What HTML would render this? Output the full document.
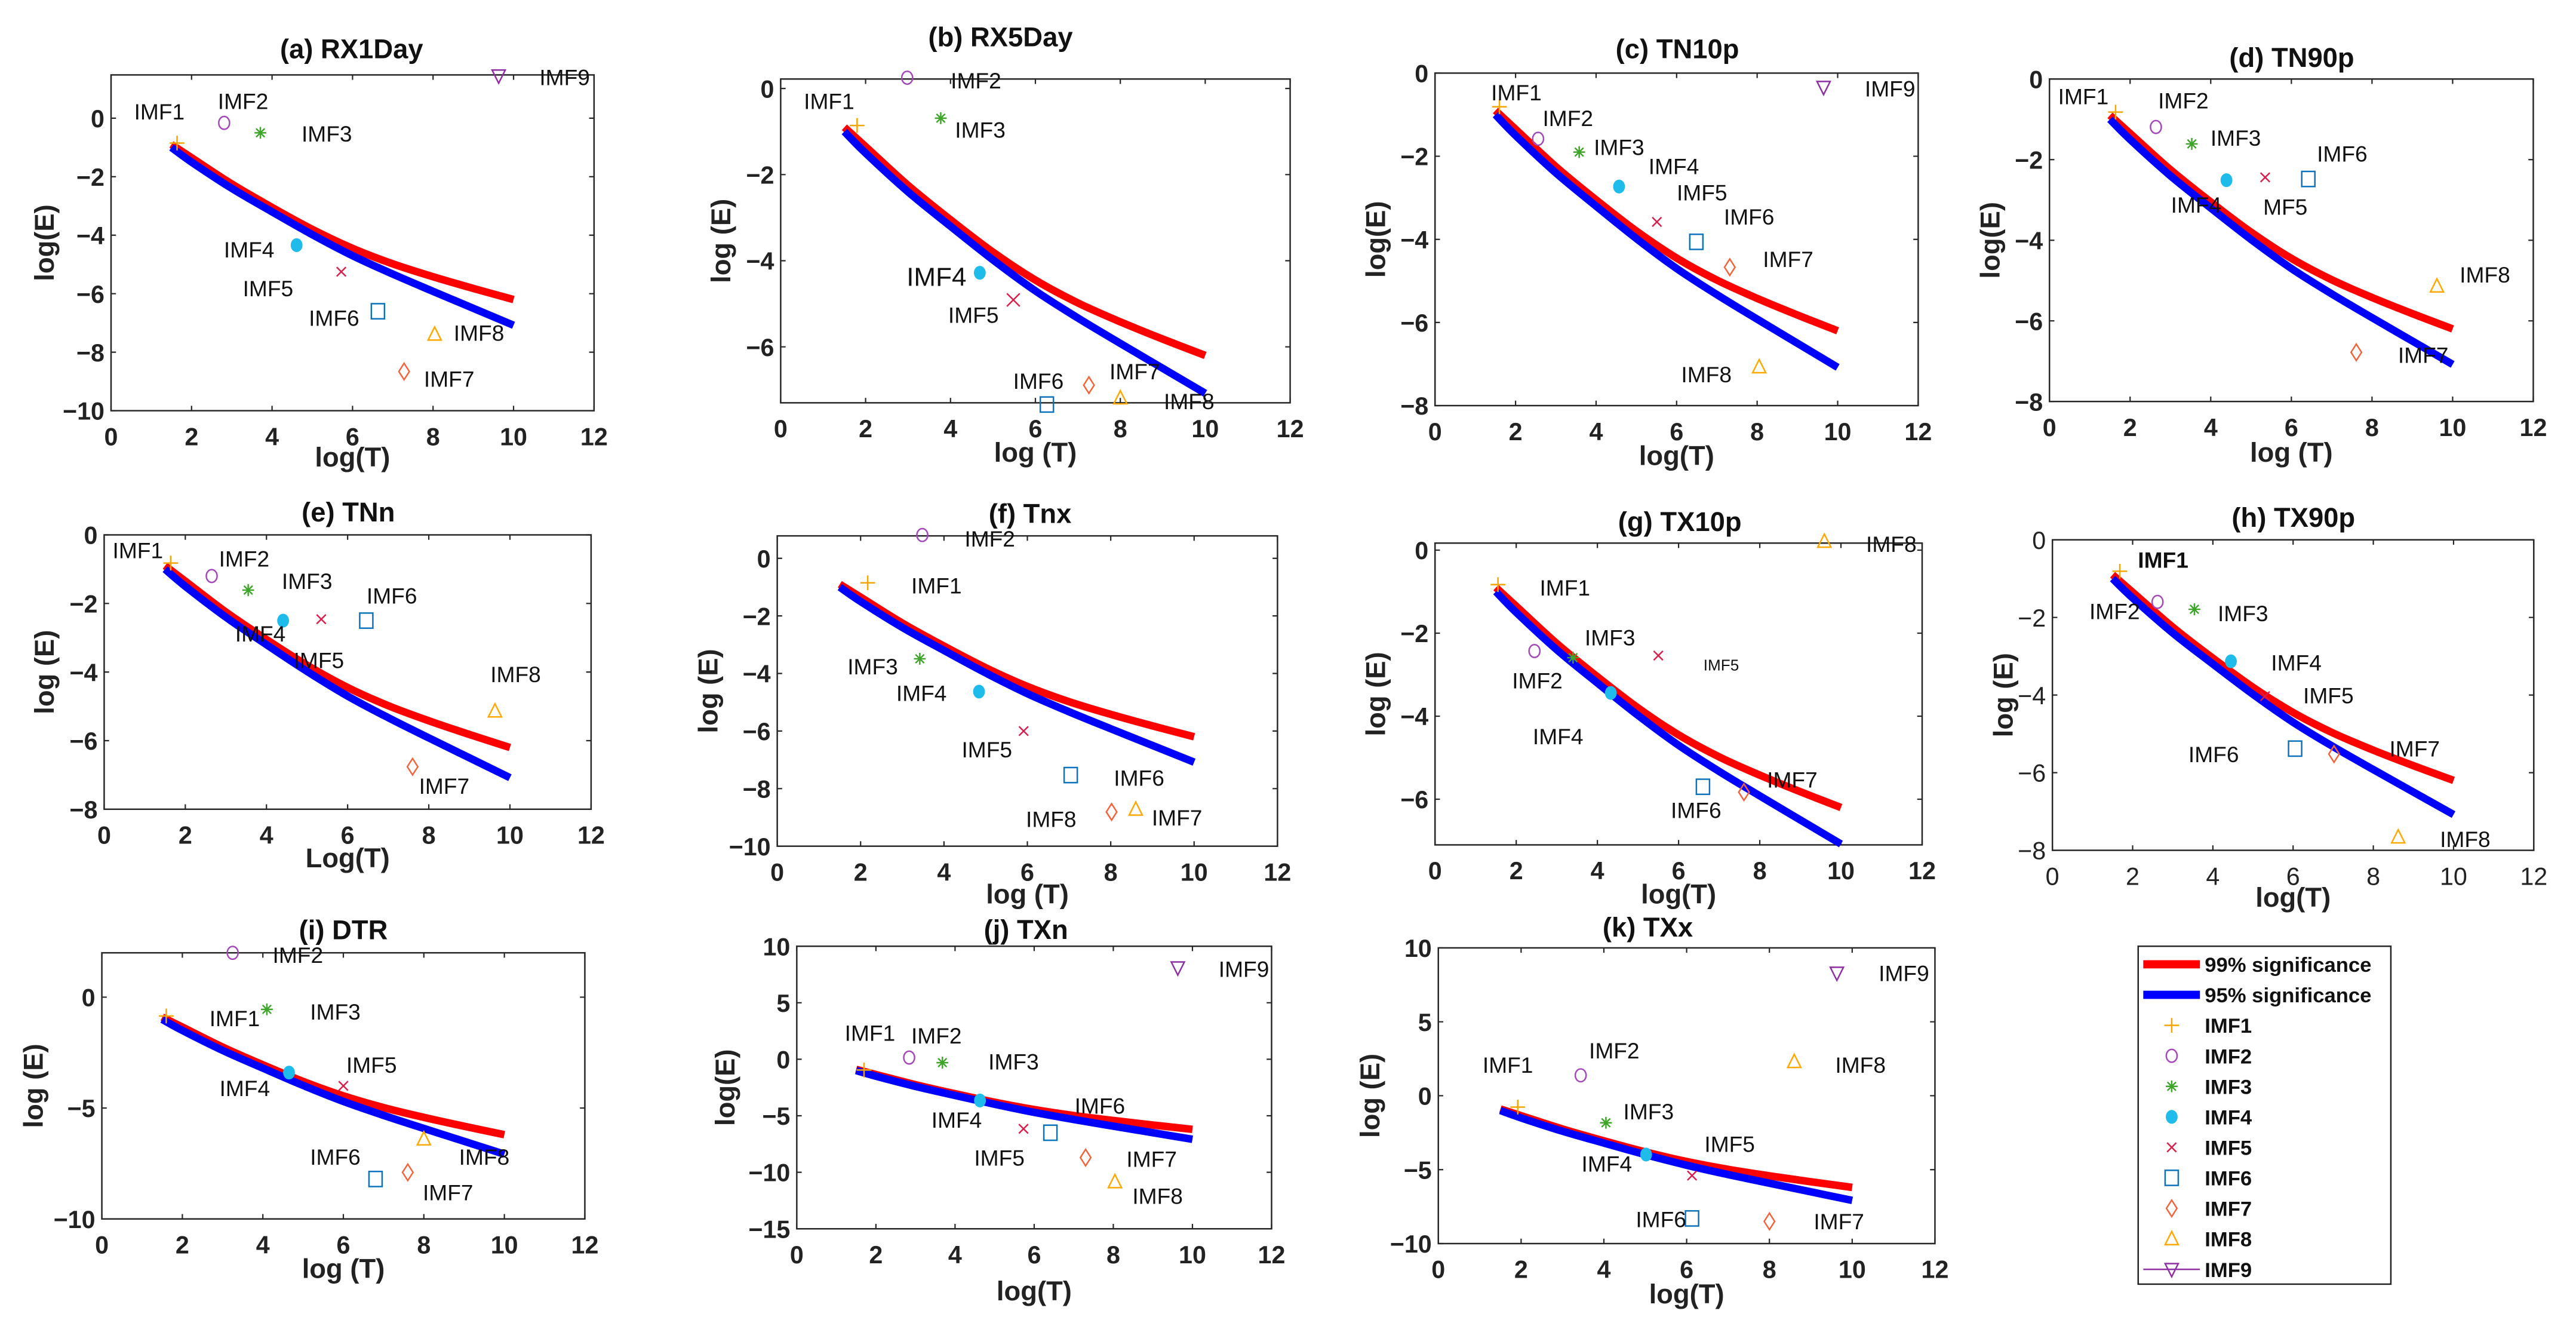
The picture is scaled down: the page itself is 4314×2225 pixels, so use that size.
<!DOCTYPE html>
<html><head><meta charset="utf-8">
<style>
html,body{margin:0;padding:0;background:#fff;}
svg{display:block;}
text{font-family:"Liberation Sans",Arial,sans-serif;}
</style></head>
<body>
<svg id="fig" width="4314" height="2225" viewBox="0 0 1568 809" preserveAspectRatio="none" xmlns="http://www.w3.org/2000/svg">
<rect x="0" y="0" width="1568" height="809" fill="#fff"/>
<g id="panels"></g>
<g id="legend">
  <rect x="1301.5" y="576" width="153.8" height="205.7" fill="#fff" stroke="#222" stroke-width="0.9"/>
</g>
</svg>
<script>
// ---- shared significance curves ----
const curveX = [1.5,2,3,4,5,6,7,8,9,10];
const curve99 = [-0.9,-1.35,-2.25,-3.05,-3.8,-4.45,-4.98,-5.42,-5.82,-6.2];
const curve95 = [-1.0,-1.5,-2.4,-3.2,-3.98,-4.7,-5.33,-5.92,-6.5,-7.08];
const xTicks = [0,2,4,6,8,10,12];
const imfNames = ["IMF1","IMF2","IMF3","IMF4","IMF5","IMF6","IMF7","IMF8","IMF9"];

// ---- panel data (log T, log E) and label anchors ----
const aIds=[1,2,3,4,5,6,7,8,9];
const aX=[1.64,2.81,3.71,4.61,5.72,6.63,7.28,8.04,9.63];
const aY=[-0.85,-0.16,-0.5,-4.34,-5.25,-6.6,-8.66,-7.39,1.45];
const aLX=[1.2,3.28,5.36,3.43,3.9,5.54,8.4,9.14,11.27];
const aLY=[0.23,0.59,-0.53,-4.49,-5.81,-6.83,-8.91,-7.34,1.4];

const bIds=[1,2,3,4,5,6,7,8];
const bX=[1.8,2.98,3.77,4.69,5.48,6.27,7.26,8.0];
const bY=[-0.86,0.25,-0.69,-4.28,-4.91,-7.34,-6.89,-7.19];
const bLX=[1.14,4.6,4.7,3.67,4.54,6.07,8.34,9.62];
const bLY=[-0.29,0.19,-0.96,-4.36,-5.26,-6.79,-6.57,-7.26];

const cIds=[1,2,3,4,5,6,7,8,9];
const cX=[1.6,2.56,3.58,4.57,5.51,6.49,7.32,8.05,9.65];
const cY=[-0.81,-1.58,-1.9,-2.73,-3.58,-4.06,-4.67,-7.07,-0.34];
const cLX=[2.02,3.3,4.57,5.93,6.63,7.8,8.77,6.74,11.3];
const cLY=[-0.46,-1.08,-1.78,-2.24,-2.87,-3.45,-4.47,-7.25,-0.37];

const dIds=[1,2,3,4,5,6,7,8];
const dX=[1.64,2.64,3.53,4.39,5.35,6.42,7.61,9.61];
const dY=[-0.82,-1.19,-1.61,-2.51,-2.44,-2.48,-6.78,-5.14];
const dLX=[0.84,3.32,4.62,3.64,5.85,7.26,9.27,10.8];
const dLY=[-0.43,-0.53,-1.46,-3.12,-3.17,-1.85,-6.84,-4.85];

const eIds=[1,2,3,4,5,6,7,8];
const eX=[1.64,2.65,3.55,4.41,5.35,6.46,7.6,9.63];
const eY=[-0.82,-1.2,-1.61,-2.5,-2.46,-2.5,-6.76,-5.14];
const eLX=[0.83,3.45,5.0,3.85,5.29,7.09,8.38,10.14];
const eLY=[-0.45,-0.69,-1.34,-2.88,-3.65,-1.77,-7.32,-4.06];

const fIds=[1,2,3,4,5,6,7,8];
const fX=[2.17,3.48,3.42,4.84,5.91,7.04,8.02,8.6];
const fY=[-0.85,0.81,-3.49,-4.63,-6.0,-7.53,-8.81,-8.72];
const fLX=[3.82,5.1,2.29,3.46,5.03,8.68,9.59,6.57];
const fLY=[-0.94,0.69,-3.75,-4.68,-6.64,-7.62,-9.0,-9.05];

const gIds=[1,2,3,4,5,6,7,8];
const gX=[1.55,2.45,3.4,4.33,5.5,6.6,7.61,9.59];
const gY=[-0.83,-2.43,-2.59,-3.44,-2.54,-5.7,-5.83,0.21];
const gLX=[3.2,2.52,4.31,3.03,7.05,6.43,8.8,11.24];
const gLY=[-0.9,-3.14,-2.1,-4.48,-2.76,-6.26,-5.53,0.15];

const hIds=[1,2,3,4,5,6,7,8];
const hX=[1.68,2.62,3.54,4.45,5.3,6.05,7.02,8.62];
const hY=[-0.81,-1.6,-1.79,-3.13,-4.03,-5.38,-5.52,-7.66];
const hLX=[2.76,1.55,4.75,6.08,6.88,4.02,9.03,10.29];
const hLY=[-0.51,-1.84,-1.89,-3.16,-4.01,-5.52,-5.38,-7.71];

const iIds=[1,2,3,4,5,6,7,8];
const iX=[1.6,3.25,4.1,4.65,6.0,6.8,7.6,8.0];
const iY=[-0.85,2.0,-0.55,-3.4,-4.0,-8.2,-7.9,-6.4];
const iLX=[3.3,4.87,5.8,3.55,6.7,5.8,8.6,9.5];
const iLY=[-0.95,1.9,-0.65,-4.1,-3.05,-7.2,-8.8,-7.2];

const jIds=[1,2,3,4,5,6,7,8,9];
const jX=[1.7,2.84,3.68,4.63,5.73,6.41,7.3,8.04,9.63];
const jY=[-0.95,0.15,-0.3,-3.65,-6.15,-6.5,-8.7,-10.85,8.1];
const jLX=[1.85,3.53,5.48,4.04,5.12,7.66,8.97,9.12,11.3];
const jLY=[2.35,2.1,-0.2,-5.35,-8.7,-4.1,-8.8,-12.1,8.0];

const kIds=[1,2,3,4,5,6,7,8,9];
const kX=[1.92,3.44,4.05,5.02,6.13,6.13,8.0,8.6,9.63];
const kY=[-0.77,1.38,-1.83,-3.98,-5.4,-8.3,-8.5,2.3,8.3];
const kLX=[1.68,4.25,5.08,4.07,7.04,5.38,9.68,10.2,11.25];
const kLY=[2.1,3.07,-1.05,-4.6,-3.25,-8.35,-8.5,2.1,8.3];

const NS="http://www.w3.org/2000/svg";
const colors={1:"#F5A500",2:"#A347BA",3:"#3FA52A",4:"#1FBCEB",5:"#D81E4A",6:"#0B72BD",7:"#F4623A",8:"#FFA800",9:"#8E2EA3"};

function el(tag, attrs, parent){
  const e=document.createElementNS(NS,tag);
  for(const k in attrs) e.setAttribute(k,attrs[k]);
  parent.appendChild(e);
  return e;
}
function fmt(v){return v<0?"\u2212"+Math.abs(v):String(v);}

const panels=[
 {key:"a",title:"(a) RX1Day",L:67.6,R:361.6,T:45.6,B:250,ymin:-10,ymax:1.48,yt:[0,-2,-4,-6,-8,-10],tx:214,ty:30,xl:"log(T)",xly:278,yl:"log(E)",ylx:26.8,ids:aIds,X:aX,Y:aY,LX:aLX,LY:aLY},
 {key:"b",title:"(b) RX5Day",L:475.2,R:785.3,T:48.1,B:245.2,ymin:-7.3,ymax:0.22,yt:[0,-2,-4,-6],tx:609,ty:22.6,xl:"log (T)",xly:275,yl:"log (E)",ylx:438.5,ids:bIds,X:bX,Y:bY,LX:bLX,LY:bLY},
 {key:"c",title:"(c) TN10p",L:873.5,R:1167.6,T:44.5,B:246.9,ymin:-8,ymax:0,yt:[0,-2,-4,-6,-8],tx:1021,ty:30,xl:"log(T)",xly:277,yl:"log(E)",ylx:837,ids:cIds,X:cX,Y:cY,LX:cLX,LY:cLY},
 {key:"d",title:"(d) TN90p",L:1247.5,R:1542,T:48.1,B:244.4,ymin:-8,ymax:0,yt:[0,-2,-4,-6,-8],tx:1395,ty:35.2,xl:"log (T)",xly:275,yl:"log(E)",ylx:1211,ids:dIds,X:dX,Y:dY,LX:dLX,LY:dLY},
 {key:"e",title:"(e) TNn",L:63.4,R:359.8,T:325.6,B:492.6,ymin:-8,ymax:0,yt:[0,-2,-4,-6,-8],tx:212,ty:311.9,xl:"Log(T)",xly:522,yl:"log (E)",ylx:26.7,ids:eIds,X:eX,Y:eY,LX:eLX,LY:eLY},
 {key:"f",title:"(f) Tnx",L:473.1,R:777.6,T:326.2,B:515.1,ymin:-10,ymax:0.78,yt:[0,-2,-4,-6,-8,-10],tx:627,ty:312.8,xl:"log (T)",xly:544,yl:"log (E)",ylx:430.8,ids:fIds,X:fX,Y:fY,LX:fLX,LY:fLY},
 {key:"g",title:"(g) TX10p",L:873.5,R:1170,T:330.6,B:514.3,ymin:-7.1,ymax:0.17,yt:[0,-2,-4,-6],tx:1022.5,ty:317.8,xl:"log(T)",xly:544,yl:"log (E)",ylx:837,ids:gIds,X:gX,Y:gY,LX:gLX,LY:gLY},
 {key:"h",title:"(h) TX90p",L:1249.3,R:1542.3,T:328.6,B:517.6,ymin:-8,ymax:0,yt:[0,-2,-4,-6,-8],tx:1396,ty:315.2,xl:"log(T)",xly:546,yl:"log (E)",ylx:1219,ids:hIds,X:hX,Y:hY,LX:hLX,LY:hLY,thin:true},
 {key:"i",title:"(i) DTR",L:62,R:356,T:580,B:742,ymin:-10,ymax:2,yt:[0,-5,-10],tx:209,ty:566.3,xl:"log (T)",xly:772,yl:"log (E)",ylx:20,ids:iIds,X:iX,Y:iY,LX:iLX,LY:iLY},
 {key:"j",title:"(j) TXn",L:485,R:774,T:576,B:748,ymin:-15,ymax:10,yt:[10,5,0,-5,-10,-15],tx:624.5,ty:566,xl:"log(T)",xly:785.6,yl:"log(E)",ylx:441,ids:jIds,X:jX,Y:jY,LX:jLX,LY:jLY},
 {key:"k",title:"(k) TXx",L:875.5,R:1177.8,T:577,B:757,ymin:-10,ymax:10,yt:[10,5,0,-5,-10],tx:1003,ty:564.6,xl:"log(T)",xly:787.4,yl:"log (E)",ylx:833.6,ids:kIds,X:kX,Y:kY,LX:kLX,LY:kLY}
];

function drawMarker(g,id,cx,cy,s){
  const c=colors[id]; const w=0.9;
  let m;
  if(id===1){
    m=el("path",{d:`M${cx-4.5*s},${cy}H${cx+4.5*s}M${cx},${cy-4.5*s}V${cy+4.5*s}`,stroke:c,"stroke-width":w,fill:"none"},g);
  }else if(id===2){
    m=el("ellipse",{cx:cx,cy:cy,rx:3.3*s,ry:3.9*s,stroke:c,"stroke-width":w,fill:"none"},g);
  }else if(id===3){
    const r=3.6*s,d=2.6*s;
    m=el("path",{d:`M${cx-r},${cy}H${cx+r}M${cx},${cy-r}V${cy+r}M${cx-d},${cy-d}L${cx+d},${cy+d}M${cx-d},${cy+d}L${cx+d},${cy-d}`,stroke:c,"stroke-width":w,fill:"none"},g);
  }else if(id===4){
    m=el("ellipse",{cx:cx,cy:cy,rx:3.6*s,ry:4.2*s,fill:c},g);
  }else if(id===5){
    const d=2.8*s;
    m=el("path",{d:`M${cx-d},${cy-d}L${cx+d},${cy+d}M${cx-d},${cy+d}L${cx+d},${cy-d}`,stroke:c,"stroke-width":w,fill:"none"},g);
  }else if(id===6){
    m=el("rect",{x:cx-4*s,y:cy-4.6*s,width:8*s,height:9.2*s,stroke:c,"stroke-width":w,fill:"none"},g);
  }else if(id===7){
    m=el("path",{d:`M${cx},${cy-5*s}L${cx+3.2*s},${cy}L${cx},${cy+5*s}L${cx-3.2*s},${cy}Z`,stroke:c,"stroke-width":w,fill:"none"},g);
  }else if(id===8){
    m=el("path",{d:`M${cx},${cy-4.5*s}L${cx+4*s},${cy+3.5*s}L${cx-4*s},${cy+3.5*s}Z`,stroke:c,"stroke-width":w,fill:"none"},g);
  }else{
    m=el("path",{d:`M${cx-4*s},${cy-3.5*s}L${cx+4*s},${cy-3.5*s}L${cx},${cy+4.5*s}Z`,stroke:c,"stroke-width":w,fill:"none"},g);
  }
  return m;
}

// smooth path through points (Catmull-Rom -> cubic Bezier)
function smoothPath(pts){
  let d="M"+pts[0][0].toFixed(2)+","+pts[0][1].toFixed(2);
  for(let i=0;i<pts.length-1;i++){
    const p0=pts[Math.max(i-1,0)],p1=pts[i],p2=pts[i+1],p3=pts[Math.min(i+2,pts.length-1)];
    const c1x=p1[0]+(p2[0]-p0[0])/6,c1y=p1[1]+(p2[1]-p0[1])/6;
    const c2x=p2[0]-(p3[0]-p1[0])/6,c2y=p2[1]-(p3[1]-p1[1])/6;
    d+=`C${c1x.toFixed(2)},${c1y.toFixed(2)} ${c2x.toFixed(2)},${c2y.toFixed(2)} ${p2[0].toFixed(2)},${p2[1].toFixed(2)}`;
  }
  return d;
}

const root=document.getElementById("panels");
panels.forEach(p=>{
  const g=el("g",{},root);
  
  
  const sx=v=>p.L+(v-0)/(12-0)*(p.R-p.L);
  const sy=v=>p.B-(v-p.ymin)/(p.ymax-p.ymin)*(p.B-p.T);
  const tw=p.thin?"normal":"bold";
  const t=el("text",{x:p.tx,y:p.ty+5.5,"text-anchor":"middle","font-size":16.5,"font-weight":"bold",fill:"#111"},g);
  t.textContent=p.title;
  
  
  const fr=el("rect",{x:p.L,y:p.T,width:p.R-p.L,height:p.B-p.T,fill:"none",stroke:"#262626","stroke-width":0.9},g);
  
  
  xTicks.forEach(v=>{
    const x=sx(v);
    el("path",{d:`M${x},${p.B}V${p.B-3}M${x},${p.T}V${p.T+3}`,stroke:"#262626","stroke-width":0.8},g);
    const lb=el("text",{x:x,y:p.B+21,"text-anchor":"middle","font-size":15,"font-weight":tw,fill:"#222"},g);
    lb.textContent=String(v);
    
    
  });
  p.yt.forEach(v=>{
    const y=sy(v);
    el("path",{d:`M${p.L},${y}H${p.L+3}M${p.R},${y}H${p.R-3}`,stroke:"#262626","stroke-width":0.8},g);
    const lb=el("text",{x:p.L-4,y:y+5.5,"text-anchor":"end","font-size":15,"font-weight":tw,fill:"#222"},g);
    lb.textContent=fmt(v);
    
    
  });
  const xl=el("text",{x:(p.L+p.R)/2,y:p.xly+6,"text-anchor":"middle","font-size":16.5,"font-weight":"bold",fill:"#222"},g);
  xl.textContent=p.xl;
  
  
  const yc=(p.T+p.B)/2;
  const yl=el("text",{x:p.ylx,y:yc,"text-anchor":"middle","font-size":16.5,"font-weight":"bold",fill:"#222",transform:`rotate(-90 ${p.ylx} ${yc}) translate(0 6)`},g);
  yl.textContent=p.yl;
  
  
  const mk=arr=>smoothPath(curveX.map((x,i)=>[sx(x),sy(arr[i])]));
  const r=el("path",{d:mk(curve99),stroke:"#FF0000","stroke-width":4.6,fill:"none","stroke-linejoin":"round"},g);
  
  
  const bl=el("path",{d:mk(curve95),stroke:"#0000FF","stroke-width":4.6,fill:"none","stroke-linejoin":"round"},g);
  
  
  p.ids.forEach((id,i)=>{
    const m=drawMarker(g,id,sx(p.X[i]),sy(p.Y[i]),(p.key==="b"&&id===5)?1.4:1);
    
    
    let txt=imfNames[id-1], fs=13.5, fw="normal";
    if(p.key==="d"&&id===5) txt="MF5";
    if(p.key==="b"&&id===4) fs=16;
    if(p.key==="g"&&id===5) fs=9.5;
    if(p.key==="h"&&id===1) fw="bold";
    const lt=el("text",{x:sx(p.LX[i]),y:sy(p.LY[i])+fs*0.36,"text-anchor":"middle","font-size":fs,"font-weight":fw,fill:"#111"},g);
    lt.textContent=txt;
    
    
  });
});

const leg=document.getElementById("legend");
const legLabels=["99% significance","95% significance"].concat(imfNames);
legLabels.forEach((name,i)=>{
  const y=587+i*18.57;
  const gg=el("g",{},leg);
  
  
  if(i===0) el("rect",{x:1304.6,y:y-2.5,width:34.5,height:5,fill:"#FF0000"},gg);
  else if(i===1) el("rect",{x:1304.6,y:y-2.5,width:34.5,height:5,fill:"#0000FF"},gg);
  else {
    const id=i-1;
    if(id===9) el("path",{d:`M1304.6,${y}H1339.1`,stroke:colors[9],"stroke-width":0.9},gg);
    drawMarker(gg,id,1321.9,y,1);
  }
  const tx=el("text",{x:1342,y:y+4.6,"font-size":12.6,"font-weight":"bold",fill:"#111"},gg);
  tx.textContent=name;
});
</script>
</body></html>
